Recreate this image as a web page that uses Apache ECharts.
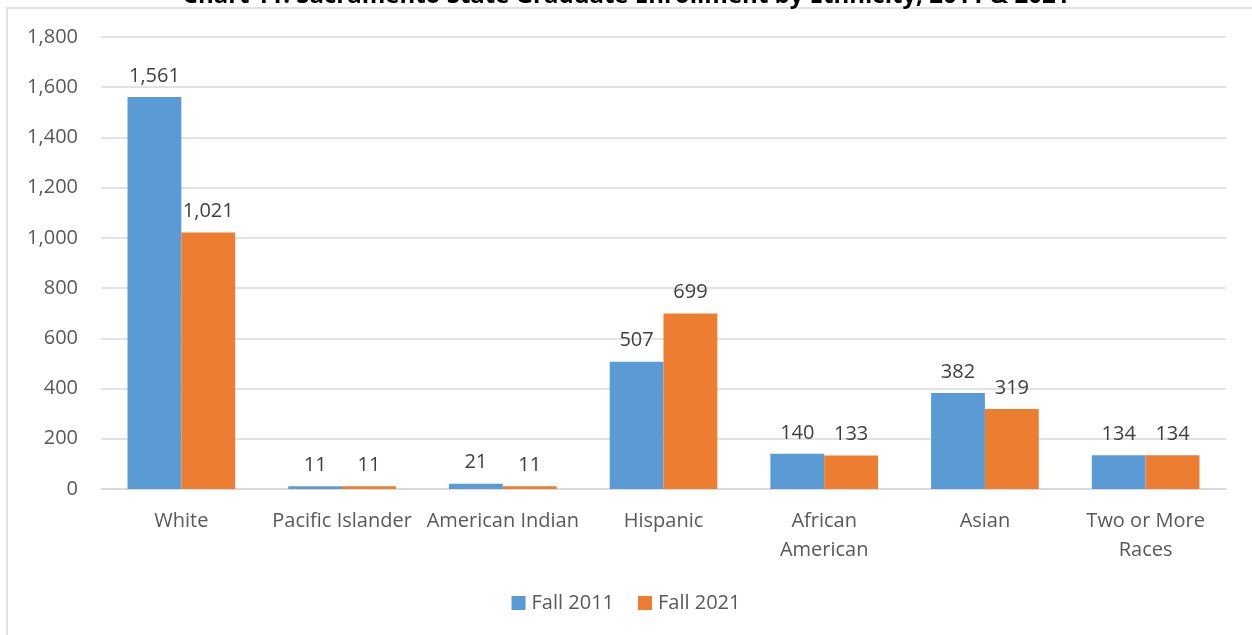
<!DOCTYPE html>
<html>
<head>
<meta charset="utf-8">
<script src="https://cdn.jsdelivr.net/npm/echarts@6/dist/echarts.min.js"></script>
<style>html,body{margin:0;padding:0;background:#fff;}#c{width:1252px;height:635px;}</style>
</head>
<body>
<div id="c"></div>
<script>
const titleText = 'Chart 11: Sacramento State Graduate Enrollment by Ethnicity, 2011 & 2021';
const categories = ['White', 'Pacific Islander', 'American Indian', 'Hispanic', 'African\nAmerican', 'Asian', 'Two or More\nRaces'];
const seriesNames = ['Fall 2011', 'Fall 2021'];
const fall2011 = [1561, 11, 21, 507, 140, 382, 134];
const fall2021 = [1021, 11, 11, 699, 133, 319, 134];
const yMin = 0, yMax = 1800, yStep = 200;

const FONT = '"Open Sans", "Noto Sans", sans-serif';
const chart = echarts.init(document.getElementById('c'), null, {renderer: 'canvas'});
const labelCfg = {
  show: true, position: 'top', distance: 11,
  color: '#404040', fontSize: 20, fontFamily: FONT,
  formatter: p => p.value.toLocaleString('en-US')
};
chart.setOption({
  animation: false,
  backgroundColor: '#fff',
  title: {
    text: titleText, left: 'center', top: -21,
    textStyle: {fontSize: 24, fontWeight: 'bold', color: '#000', fontFamily: FONT}
  },
  graphic: [{
    type: 'rect', silent: true, z: -1,
    shape: {x: 7, y: 8, width: 1400, height: 800},
    style: {fill: 'none', stroke: '#d9d9d9', lineWidth: 1.5}
  }],
  legend: {
    data: seriesNames, bottom: 17, left: 'center',
    icon: 'rect', itemWidth: 14, itemHeight: 14, itemGap: 24, itemStyle: {borderWidth: 0},
    textStyle: {fontSize: 20, color: '#595959', fontFamily: FONT, padding: [0, 0, 0, 1]}
  },
  grid: {left: 101, right: 26, top: 37, bottom: 146, containLabel: false},
  xAxis: {
    type: 'category', data: categories,
    axisLine: {lineStyle: {color: '#d9d9d9', width: 1.5}},
    axisTick: {show: false},
    axisLabel: {color: '#595959', fontSize: 20, fontFamily: FONT, margin: 18, lineHeight: 29, interval: 0}
  },
  yAxis: {
    type: 'value', min: yMin, max: yMax, interval: yStep,
    axisLine: {show: false}, axisTick: {show: false},
    splitLine: {lineStyle: {color: '#d9d9d9', width: 1.5}},
    axisLabel: {color: '#595959', fontSize: 20, fontFamily: FONT, margin: 23,
      formatter: v => v.toLocaleString('en-US')}
  },
  series: [
    {name: seriesNames[0], type: 'bar', data: fall2011, barGap: '0%', barCategoryGap: '33%',
     itemStyle: {color: '#5B9BD5'}, label: labelCfg},
    {name: seriesNames[1], type: 'bar', data: fall2021, barGap: '0%', barCategoryGap: '33%',
     itemStyle: {color: '#ED7D31'}, label: labelCfg}
  ]
});
</script>
</body>
</html>
